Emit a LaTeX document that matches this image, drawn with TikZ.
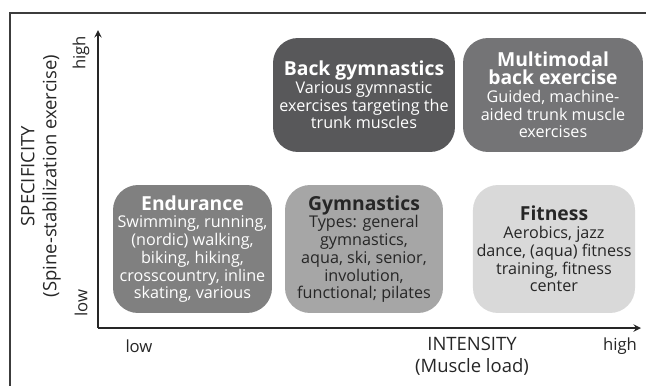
\documentclass[tikz,border=0pt]{standalone}
\usepackage{fontspec}
\setmainfont{Open Sans}
\usepackage{xcolor}
\usepackage{tikz}
\usetikzlibrary{shapes,arrows,positioning,calc}
\definecolor{boxdark}{HTML}{58585A}
\definecolor{boxmid}{HTML}{747476}
\definecolor{boxgrey}{HTML}{808080}
\definecolor{boxlight}{HTML}{A6A6A6}
\definecolor{boxpale}{HTML}{D9D9D9}
\definecolor{inkdark}{HTML}{262626}
\tikzstyle{arrow} = [thick,->,>=stealth,draw=inkdark]
\tikzstyle{box} = [rectangle, rounded corners=0.5cm, align=center, inner sep=2pt, font=\fontsize{9.2}{10.1}\selectfont]
\tikzstyle{axlabel} = [text=inkdark, font=\fontsize{10.5}{12.5}\selectfont, align=center]
\tikzstyle{ticklabel} = [text=inkdark, font=\fontsize{9.5}{11}\selectfont]
\newcommand{\boxtitle}[1]{{\fontsize{11}{10.1}\selectfont\bfseries #1}}

\begin{document}
\begin{tikzpicture}[x=0.02cm, y=-0.02cm]
    \useasboundingbox (0,0) rectangle (646,386);
    % frame
    \draw[inkdark!90, line width=0.6pt] (646,13) -- (10,13) -- (10,386);

    % axes
    \coordinate (origin) at (98,328);
    \coordinate (xend) at (641,328);
    \coordinate (yend) at (98,30);
    \draw[arrow, line width=0.9pt] (origin) -- (xend);
    \draw[arrow, line width=0.9pt] (origin) -- (yend);

    \node[ticklabel, rotate=90] (yhigh) at (81,53) {high};
    \node[ticklabel, rotate=90] (ylow) at (81,303) {low};
    \node[ticklabel] (xlow) at (139,346) {low};
    \node[ticklabel] (xhigh) at (620,346) {high};
    \node[axlabel] (xtitle) at (472,356) {INTENSITY\\(Muscle load)};
    \node[axlabel, rotate=90] (ytitle) at (41,176) {SPECIFICITY\\(Spine-stabilization exercise)};

    % upper row
    \node[box, fill=boxdark, text=white, minimum width=3.64cm, minimum height=2.28cm] (backgym) at (364,95)
        {\boxtitle{Back gymnastics}\\Various gymnastic\\exercises targeting the\\trunk muscles};
    \node[box, fill=boxmid, text=white, minimum width=3.6cm, minimum height=2.28cm] (multi) at (553,95)
        {\boxtitle{Multimodal}\\\boxtitle{back exercise}\\Guided, machine-\\aided trunk muscle\\exercises};

    % lower row
    \node[box, fill=boxgrey, text=white, minimum width=3.18cm, minimum height=2.56cm] (endur) at (192.5,249)
        {\boxtitle{Endurance}\\Swimming, running,\\(nordic) walking,\\biking, hiking,\\crosscountry, inline\\skating, various};
    \node[box, fill=boxlight, text=inkdark, minimum width=3.16cm, minimum height=2.56cm] (gymn) at (364,249)
        {\boxtitle{Gymnastics}\\Types: general\\gymnastics,\\aqua, ski, senior,\\involution,\\functional; pilates};
    \node[box, fill=boxpale, text=inkdark, minimum width=3.16cm, minimum height=2.56cm] (fit) at (554,249)
        {\boxtitle{Fitness}\\Aerobics, jazz\\dance, (aqua) fitness\\training, fitness\\center};
\end{tikzpicture}
\end{document}
